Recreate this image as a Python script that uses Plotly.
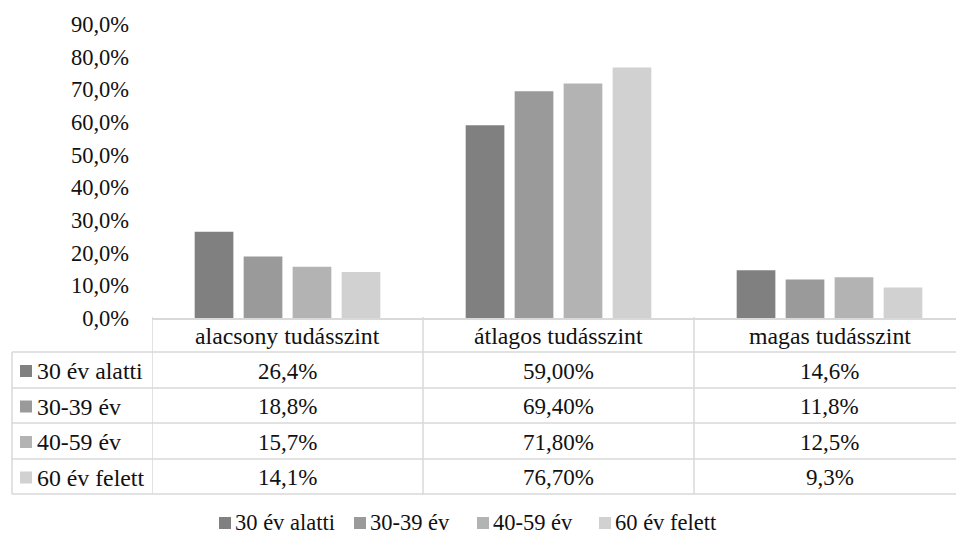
import plotly.graph_objects as go

# ---- data ----
categories = ["alacsony tudásszint", "átlagos tudásszint", "magas tudásszint"]
series_names = ["30 év alatti", "30-39 év", "40-59 év", "60 év felett"]
s_under30 = [26.4, 59.0, 14.6]
s_30_39 = [18.8, 69.4, 11.8]
s_40_59 = [15.7, 71.8, 12.5]
s_over60 = [14.1, 76.7, 9.3]
series_values = [s_under30, s_30_39, s_40_59, s_over60]
table_decimals = [1, 2, 1]          # as printed in the data table
tick_values = [0, 10, 20, 30, 40, 50, 60, 70, 80, 90]
tick_labels = ["0,0%", "10,0%", "20,0%", "30,0%", "40,0%", "50,0%", "60,0%", "70,0%", "80,0%", "90,0%"]

# ---- style ----
colors = ["#808080", "#9a9a9a", "#b3b3b3", "#d1d1d1"]
FONT = "Times New Roman, Liberation Serif, serif"
TXT = "#111111"
FS = 22.5        # ticks, legend
FS_HEAD = 23.8   # table header / row labels
FS_VAL = 23      # table values
GRID = "#d9d9d9"
W, H = 956, 538

def px(p):
    return p / W

def py(p):
    return 1 - p / H

fig = go.Figure()
for name, vals, col in zip(series_names, series_values, colors):
    fig.add_trace(go.Bar(x=list(range(len(categories))), y=vals, name=name,
                         marker=dict(color=col, line=dict(width=0)),
                         hoverinfo="y+name"))

cat_w = 271.0
x_left = 152
x_range = [-0.5, -0.5 + (W - x_left) / cat_w]
y0_px, y90_px = 318, 24

shapes = []
annotations = []

rows = [317, 352, 388, 423, 459, 494]
left_px = 12

for r in rows[1:]:
    shapes.append(dict(type="line", xref="paper", yref="paper", x0=px(left_px), x1=1,
                       y0=py(r), y1=py(r), line=dict(color=GRID, width=1.5)))
shapes.append(dict(type="line", xref="paper", yref="paper", x0=px(left_px), x1=px(left_px),
                   y0=py(rows[1]), y1=py(rows[-1]), line=dict(color=GRID, width=1.5)))
for b in [-0.5, 0.5, 1.5]:
    shapes.append(dict(type="line", xref="x", yref="paper", x0=b, x1=b,
                       y0=py(rows[0]), y1=py(rows[-1]), line=dict(color=GRID, width=1.5)))

for i, c in enumerate(categories):
    annotations.append(dict(x=i, xref="x", y=py((rows[0] + rows[1]) / 2 + 1), yref="paper",
                            text=c, showarrow=False, xanchor="center", yanchor="middle",
                            font=dict(family=FONT, size=FS_HEAD, color=TXT)))
for j, (name, vals, col) in enumerate(zip(series_names, series_values, colors)):
    yc = (rows[j + 1] + rows[j + 2]) / 2
    shapes.append(dict(type="rect", xref="paper", yref="paper", x0=px(20), x1=px(32),
                       y0=py(yc + 7), y1=py(yc - 5), fillcolor=col, line=dict(width=0)))
    annotations.append(dict(x=px(35), xref="paper", y=py(yc + 1), yref="paper", text=name,
                            showarrow=False, xanchor="left", yanchor="middle",
                            font=dict(family=FONT, size=FS_HEAD, color=TXT)))
    for i, v in enumerate(vals):
        t = f"{v:.{table_decimals[i]}f}".replace(".", ",") + "%"
        annotations.append(dict(x=i, xref="x", y=py(yc + 1), yref="paper", text=t,
                                showarrow=False, xanchor="center", yanchor="middle",
                                font=dict(family=FONT, size=FS_VAL, color=TXT)))

# bottom legend (square + label)
legend_x = [219, 354, 477, 599]
for name, col, lx in zip(series_names, colors, legend_x):
    shapes.append(dict(type="rect", xref="paper", yref="paper", x0=px(lx), x1=px(lx + 12),
                       y0=py(529), y1=py(517), fillcolor=col, line=dict(width=0)))
    annotations.append(dict(x=px(lx + 14), xref="paper", y=py(522), yref="paper", text=name,
                            showarrow=False, xanchor="left", yanchor="middle",
                            font=dict(family=FONT, size=FS, color=TXT)))

fig.update_layout(
    width=W, height=H,
    margin=dict(l=0, r=0, t=0, b=0, autoexpand=False),
    paper_bgcolor="white", plot_bgcolor="white",
    font=dict(family=FONT, size=FS, color=TXT),
    barmode="group", bargap=0.277, bargroupgap=0.21,
    showlegend=False,
    xaxis=dict(domain=[px(x_left), 1], range=x_range, showticklabels=False,
               showgrid=False, zeroline=False, showline=True, linecolor=GRID, linewidth=1.5,
               ticks="", fixedrange=True),
    yaxis=dict(domain=[py(y0_px), py(y90_px)], range=[0, 90], tickvals=tick_values,
               ticktext=tick_labels, showgrid=False, zeroline=False, showline=False,
               ticks="", ticklabelstandoff=22, tickfont=dict(family=FONT, size=FS, color=TXT),
               fixedrange=True, automargin=False),
    shapes=shapes, annotations=annotations,
)

fig.write_html("out.html", config={"displayModeBar": False},
               post_script="document.body.style.margin='0';document.body.style.padding='0';")
